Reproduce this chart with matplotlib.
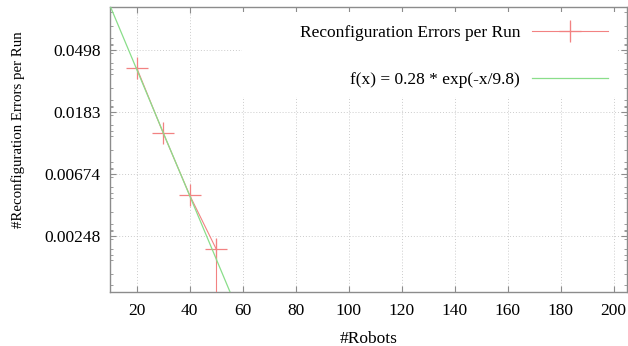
import numpy as np
import matplotlib
matplotlib.use("Agg")
import matplotlib.pyplot as plt
from matplotlib.ticker import FixedLocator, NullFormatter
from matplotlib.patches import Rectangle

robots = [20, 30, 40, 50]
errors = [0.0373, 0.0130, 0.00477, 0.00200]
err_low = [0.0015, 0.0005, 0.0002, 0.0019]
err_high = [0.0015, 0.0005, 0.0002, 0.00034]

# fitted curve parameters
fit_a = 0.28
fit_tau = 9.8

# axis ticks
x_ticks = [20, 40, 60, 80, 100, 120, 140, 160, 180, 200]
y_ticks = [np.exp(-6), np.exp(-5), np.exp(-4), np.exp(-3)]
y_tick_labels = ["0.00248", "0.00674", "0.0183", "0.0498"]

plt.rcParams["font.family"] = ["Liberation Serif", "DejaVu Serif"]
plt.rcParams["font.size"] = 12.5

W, H = 628, 346
fig = plt.figure(figsize=(W / 100, H / 100), dpi=100)
left, right, top, bottom = 110.2, 627.0, 6.7, 292.0
ax = fig.add_axes([left / W, 1 - bottom / H, (right - left) / W, (bottom - top) / H])

red = "#f28282"
green = "#8ade8a"

xs = np.linspace(10, 205, 400)
ax.plot(xs, fit_a * np.exp(-xs / fit_tau), color=green, lw=0.9, zorder=4,
        label="f(x) = 0.28 * exp(-x/9.8)")
eb = ax.errorbar(robots, errors, yerr=[err_low, err_high], color=red, lw=0.8,
                 marker="+", markersize=16, markeredgewidth=0.9, capsize=0,
                 zorder=3, label="Reconfiguration Errors per Run")

ax.set_yscale("log")
ax.set_xlim(10, 205)
ax.set_ylim(0.001, 0.1)

ax.set_xticks(x_ticks)
ax.yaxis.set_major_locator(FixedLocator(y_ticks))
ax.set_yticklabels(y_tick_labels)
minor = [m * np.exp(k) for k in range(-9, -1) for m in range(2, 10)]
minor = [v for v in minor if 0.001 < v < 0.1]
ax.yaxis.set_minor_locator(FixedLocator(minor))
ax.yaxis.set_minor_formatter(NullFormatter())
ax.xaxis.set_minor_locator(FixedLocator([]))

spine_c = "#8c8c8c"
for s in ax.spines.values():
    s.set_color(spine_c)
    s.set_linewidth(1.0)
ax.tick_params(which="both", direction="in", top=True, right=True, color=spine_c)
ax.tick_params(which="major", length=4, width=0.8)
ax.tick_params(which="minor", length=2.2, width=0.6)
ax.tick_params(axis="x", pad=8)
ax.tick_params(axis="y", pad=7)

ax.grid(True, which="major", linestyle=(0, (1, 2)), color="#cccccc", lw=0.7)

# opaque key box like gnuplot
ax.add_patch(Rectangle(((242 - left) / (right - left), (bottom - 97) / (bottom - top)),
                       (617 - 242) / (right - left), (97 - 12) / (bottom - top),
                       transform=ax.transAxes, facecolor="white", edgecolor="none",
                       zorder=2))

handles, labels = ax.get_legend_handles_labels()
leg = ax.legend(handles[::-1], labels[::-1], loc="upper right",
                bbox_to_anchor=((608 - left) / (right - left), (bottom - 25) / (bottom - top)),
                markerfirst=False, frameon=False, handlelength=4.4,
                handletextpad=0.66, labelspacing=1.75, borderaxespad=0, borderpad=0)
leg.set_zorder(5)

ax.set_xlabel("#Robots")
ax.set_ylabel("#Reconfiguration Errors per Run", fontsize=10.7)
ax.xaxis.set_label_coords(0.5, -0.135)
ax.yaxis.set_label_coords(-0.165, 0.568)

fig.savefig("out.png", dpi=100)
